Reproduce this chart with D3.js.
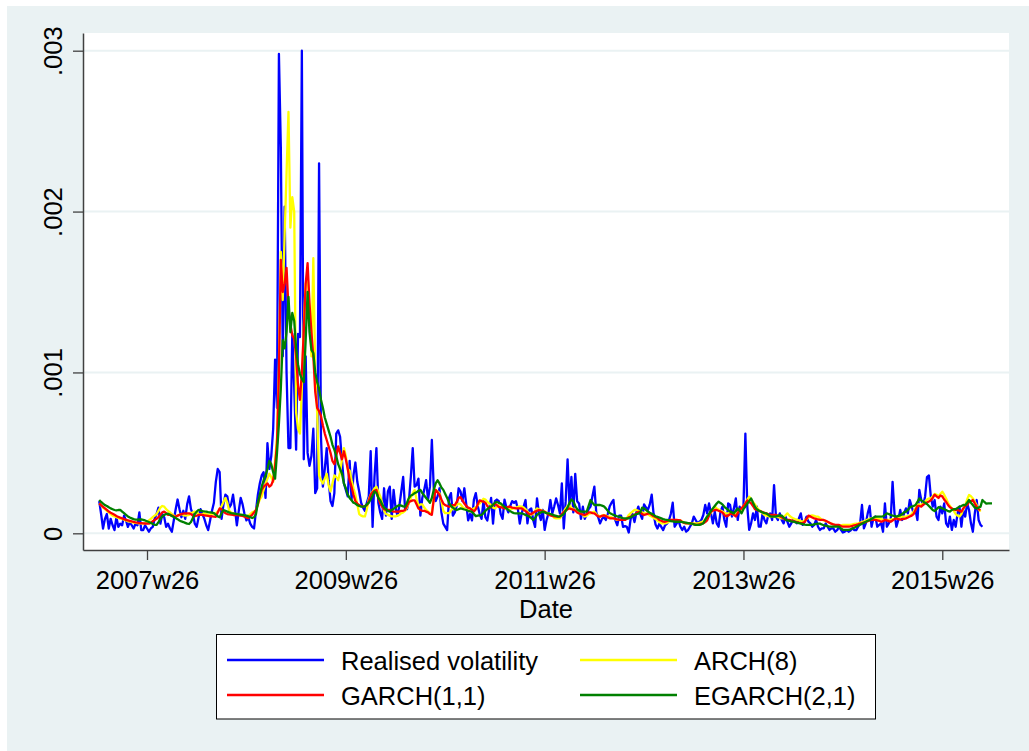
<!DOCTYPE html>
<html><head><meta charset="utf-8">
<script src="https://cdn.jsdelivr.net/npm/d3@7"></script>
<style>
html,body{margin:0;padding:0;background:#ffffff;}
svg{display:block;}
text{font-family:"Liberation Sans", Arial, sans-serif;fill:#000;}
</style></head><body>
<svg id="chart" width="1029" height="751"></svg>
<script>
// ---- DATA (weekly, first observation = 2007w1; values in units of 1e-4) ----
const START_WEEK = 2444;            // Stata %tw value of 2007w1
const VALUE_UNIT = 1e-4;
const xTickWeeks  = [2469, 2573, 2677, 2781, 2885];
const xTickLabels = ["2007w26", "2009w26", "2011w26", "2013w26", "2015w26"];
const yTickValues = [0, 0.001, 0.002, 0.003];
const yTickLabels = ["0", ".001", ".002", ".003"];
const seriesNames = ["Realised volatility", "ARCH(8)", "GARCH(1,1)", "EGARCH(2,1)"];

const realisedVol = [
2.0,1.2,0.3,0.9,1.2,0.3,0.9,0.5,0.2,1.0, 0.4,0.6,0.5,1.1,0.8,0.4,0.7,0.5,0.3,0.6,
0.5,1.3,0.2,0.2,0.5,0.3,0.1,0.3,0.4,0.9, 1.2,1.6,0.6,1.2,1.0,0.4,0.6,0.3,0.1,0.8,
1.5,2.1,1.5,1.0,1.4,0.9,1.8,2.3,1.5,1.2, 0.6,0.4,1.0,1.5,1.2,0.9,0.5,0.2,0.8,1.4,
1.9,3.2,4.0,3.8,0.9,1.8,2.4,2.3,1.6,1.8, 2.4,1.5,0.5,1.4,2.2,1.8,1.2,0.8,1.0,0.6,
0.4,0.3,1.4,2.4,3.1,3.6,3.8,2.2,5.6,4.0, 4.8,6.5,10.8,7.8,29.8,24,11,20.3,10,5.3,
5.3,12.4,9.1,5.2,12.4,12.2,30.0,4.6,11.0,5.0, 4.2,4.8,6.5,2.5,2.8,23.0,6.0,2.9,4.0,5.3,
3.3,2.0,1.7,2.5,6.2,6.4,6.0,4.5,3.1,2.7, 2.3,4.5,2.1,3.6,4.4,3.2,2.6,1.9,1.6,1.4,
1.9,2.3,5.1,0.4,3.5,5.3,1.9,1.3,0.9,2.8, 1.1,2.6,2.9,0.9,2.7,1.6,1.1,1.7,2.6,3.5,
1.5,1.5,2.0,3.5,5.3,2.9,3.0,3.4,1.1,2.2, 2.7,3.3,2.1,2.9,5.8,2.8,2.0,2.3,2.8,1.3,
0.6,0.4,0.2,2.2,2.5,1.1,1.3,1.7,2.8,2.6, 2.0,2.8,1.8,0.8,1.2,0.8,2.1,2.5,1.7,1.2,
0.9,2.0,1.0,0.8,1.5,2.2,0.6,2.0,2.1,2.0, 1.2,0.9,2.1,1.6,1.3,1.7,2.0,1.9,2.0,1.5,
0.6,1.24,1.66,2.07,0.62,1.45,1.55,0.83,0.4,2.17, 1.24,0.83,1.45,0.21,0.83,1.24,2.07,1.24,1.66,2.17,
1.76,1.24,3.1,0.3,2.0,4.6,1.7,3.5,1.3,3.7, 2.0,1.86,0.9,1.66,0.9,1.2,1.5,1.66,2.3,2.9,
1.3,1.0,0.62,0.9,1.0,0.83,1.2,1.66,1.9,2.07, 0.8,0.5,1.1,1.1,0.4,0.45,0.4,0.05,0.9,1.2,
0.7,1.3,1.66,1.2,0.9,1.8,1.6,1.45,1.8,2.4, 1.2,0.55,0.3,0.6,0.4,0.2,0.5,0.6,0.8,1.2,
1.9,0.41,0.6,0.8,0.41,0.21,0.41,0.1,0.2,0.41, 0.62,1.04,0.83,0.62,0.72,0.83,1.14,1.76,1.24,1.86,
1.24,0.62,1.35,0.62,0.41,1.35,1.66,0.83,0.41,1.86, 1.76,1.04,1.55,2.17,0.83,1.66,1.35,1.66,6.2,1.66,
0.21,0.62,1.24,0.83,1.66,0.41,0.41,1.24,0.83,0.62, 1.14,1.24,0.83,3.0,1.04,0.83,1.24,0.83,0.62,1.04,
0.72,0.41,0.62,0.83,0.72,0.62,0.93,1.24,0.52,0.72, 1.04,0.72,0.62,0.41,0.52,0.83,0.41,0.21,0.31,0.31,
0.62,0.41,0.21,0.31,0.31,0.1,0.2,0.41,0.21,0.05, 0.1,0.2,0.1,0.17,0.31,0.2,0.2,0.41,0.6,1.76,
0.31,0.62,1.24,1.7,0.41,0.93,1.04,0.41,0.52,0.62, 0.1,1.86,0.41,0.62,0.83,3.2,1.24,0.41,0.83,1.45,
0.83,1.24,1.55,1.24,2.07,1.66,1.24,1.45,0.83,2.7, 2.07,1.76,2.28,3.5,3.6,2.28,1.66,2.07,1.04,0.83,
1.66,1.24,1.86,0.62,0.41,1.04,0.21,0.83,0.41,1.24, 1.66,0.41,1.45,1.04,1.86,1.45,0.62,0.1,1.24,2.07,
0.83,0.52,0.41
];

const arch8 = [
1.86,1.75,1.6,1.5,1.4,1.3,1.2,1.1,1.05,1.0, 0.95,0.92,0.9,0.85,0.8,0.75,0.72,0.7,0.66,0.65,
0.63,0.62,0.62,0.6,0.62,0.7,0.8,0.9,1.0,1.1, 1.2,1.4,1.6,1.7,1.66,1.5,1.4,1.3,1.2,1.1,
1.05,1.1,1.15,1.2,1.15,1.1,1.12,1.15,1.25,1.3, 1.35,1.3,1.2,1.15,1.2,1.25,1.2,1.15,1.18,1.2,
1.22,1.25,1.35,1.5,1.7,1.95,2.2,1.9,1.4,1.3, 1.24,1.2,1.16,1.14,1.12,1.1,1.08,1.05,1.1,1.2,
1.3,1.35,1.4,1.8,2.1,2.3,2.7,3.1,3.4,3.7, 3.5,3.2,4.5,6.0,10.5,17.5,14.5,18.6,22.4,26.2,
19.0,20.9,20.0,7.5,6.5,6.2,9.0,13.0,15.5,16.0, 14.0,11.0,17.1,10.0,7.5,3.6,3.3,3.1,3.4,3.7,
3.0,2.6,3.1,3.6,3.5,3.3,3.8,4.6,5.3,4.8, 4.0,3.9,3.3,2.8,2.4,1.8,1.2,1.1,1.05,1.05,
1.5,2.1,2.4,2.6,2.8,2.9,2.6,2.3,1.9,1.4, 1.2,1.15,1.1,1.05,1.05,1.05,1.1,1.15,1.25,1.3,
1.4,1.6,1.9,2.2,2.5,2.7,2.1,1.7,1.8,1.8, 1.6,1.45,1.35,1.25,1.3,2.2,2.7,2.6,2.5,2.0,
1.4,1.25,1.25,1.25,1.4,1.6,1.66,1.75,1.85,1.8, 1.65,1.55,1.5,1.45,1.45,1.5,1.55,1.6,1.75,1.86,
2.0,2.15,2.1,1.95,1.86,1.75,1.6,1.55,1.65,1.75, 1.7,1.65,1.6,1.55,1.5,1.5,1.52,1.55,1.6,1.65,
1.68,1.66,1.6,1.5,1.35,1.24,1.16,1.22,1.4,1.55, 1.5,1.45,1.4,1.34,1.28,1.24,1.18,1.1,0.96,0.93,
0.93,0.93,1.1,1.35,1.55,1.7,1.76,1.6,1.5,1.45, 1.35,1.26,1.24,1.14,1.04,1.1,1.2,1.24,1.3,1.35,
1.2,1.1,1.04,1.1,1.14,1.1,1.04,1.04,1.0,0.93, 0.88,0.83,0.83,0.83,0.83,0.83,0.95,1.14,1.25,1.35,
1.45,1.45,1.4,1.35,1.3,1.26,1.24,1.18,1.1,1.04, 0.96,0.88,0.8,0.7,0.62,0.62,0.62,0.65,0.72,0.8,
0.83,0.82,0.78,0.8,0.8,0.74,0.65,0.62,0.62,0.62, 0.62,0.62,0.62,0.62,0.65,0.7,0.74,0.85,0.98,1.1,
1.3,1.5,1.66,1.55,1.47,1.42,1.35,1.28,1.24,1.24, 1.24,1.2,1.16,1.2,1.3,1.35,1.5,1.7,1.85,2.1,
2.28,2.1,1.95,1.8,1.6,1.48,1.38,1.25,1.14,1.1, 1.06,1.04,1.04,1.04,1.04,1.0,0.97,0.93,1.0,1.12,
1.24,1.1,1.0,0.93,0.88,0.85,0.8,0.76,0.72,0.8, 0.88,0.98,1.08,1.12,1.08,1.04,1.04,0.95,0.85,0.8,
0.76,0.72,0.66,0.6,0.55,0.5,0.45,0.45,0.5,0.52, 0.52,0.52,0.52,0.53,0.55,0.58,0.6,0.62,0.66,0.7,
0.75,0.8,0.85,0.9,0.93,0.93,0.93,0.92,0.9,0.88, 0.85,0.84,0.83,0.83,0.85,0.88,0.9,0.93,0.97,1.0,
1.04,1.04,1.04,1.07,1.1,1.2,1.35,1.55,1.8,1.8, 1.76,1.88,1.97,2.1,2.17,2.17,2.3,2.45,2.4,2.3,
2.45,2.59,2.4,2.17,1.9,1.7,1.55,1.4,1.2,1.1, 1.04,1.2,1.5,1.75,2.1,2.38,2.3,2.17,1.95,1.75,
1.5,1.35
];

const garch11 = [
1.86,1.75,1.65,1.55,1.45,1.35,1.28,1.22,1.15,1.08, 1.02,0.97,0.93,0.88,0.83,0.8,0.77,0.74,0.71,0.68,
0.66,0.64,0.63,0.62,0.61,0.6,0.6,0.65,0.75,0.83, 0.9,1.0,1.15,1.3,1.35,1.25,1.15,1.15,1.1,1.05,
1.04,1.1,1.15,1.2,1.22,1.24,1.24,1.24,1.2,1.1, 1.07,1.1,1.14,1.16,1.14,1.12,1.1,1.08,1.06,1.05,
1.04,1.03,1.3,1.55,1.5,1.35,1.25,1.2,1.18,1.16, 1.14,1.14,1.14,1.12,1.1,1.08,1.04,0.98,0.95,1.05,
1.15,1.3,1.45,1.8,2.3,2.7,2.9,3.0,3.1,2.9, 3.0,3.3,4.2,5.6,9.9,17.0,15.0,15.5,16.5,14.0,
13.0,12.3,12.1,11.0,9.2,8.3,10.0,12.5,15.5,16.8, 14.3,12.5,11.0,8.8,7.8,7.6,7.3,6.7,6.2,5.8,
5.4,5.0,4.5,4.3,4.8,5.4,5.0,4.6,5.1,4.6, 4.0,3.3,2.9,2.4,2.0,1.85,1.75,1.7,1.65,1.7,
1.75,2.0,2.4,2.55,2.65,2.7,2.2,1.85,1.65,1.5, 1.45,1.45,1.45,1.4,1.35,1.35,1.35,1.35,1.4,1.4,
1.45,1.7,1.95,2.0,2.05,2.05,1.8,1.55,1.45,1.4, 1.4,1.35,1.3,1.2,1.15,2.1,2.7,2.55,2.4,2.1,
1.85,1.75,1.7,1.65,1.7,1.75,1.75,1.95,2.2,2.25, 2.05,1.85,1.7,1.6,1.55,1.45,1.35,1.5,1.8,2.05,
2.0,1.97,1.9,1.7,1.55,1.65,1.75,1.85,1.75,1.65, 1.62,1.6,1.55,1.6,1.65,1.65,1.6,1.58,1.55,1.55,
1.55,1.55,1.45,1.38,1.3,1.16,1.2,1.28,1.35,1.4, 1.45,1.42,1.38,1.35,1.25,1.16,1.12,1.08,1.05,1.04,
1.04,1.04,1.2,1.32,1.42,1.5,1.55,1.5,1.47,1.42, 1.3,1.24,1.2,1.16,1.14,1.2,1.3,1.3,1.26,1.24,
1.14,1.06,1.04,1.08,1.12,1.07,1.0,0.93,0.93,0.93, 0.9,0.86,0.83,0.83,0.83,0.83,0.9,1.0,1.04,1.1,
1.14,1.25,1.33,1.33,1.2,1.14,1.18,1.22,1.24,1.15, 1.06,1.02,0.96,0.83,0.78,0.73,0.72,0.76,0.8,0.83,
0.83,0.83,0.83,0.82,0.8,0.7,0.65,0.62,0.62,0.62, 0.6,0.57,0.53,0.52,0.55,0.6,0.62,0.7,0.8,1.1,
1.35,1.4,1.45,1.45,1.4,1.36,1.3,1.15,1.05,1.1, 1.2,1.22,1.15,1.05,1.25,1.45,1.55,1.7,1.85,2.05,
1.95,1.87,1.7,1.5,1.45,1.4,1.37,1.32,1.28,1.24, 1.18,1.15,1.14,1.14,1.14,1.1,1.06,1.0,0.92,0.85,
0.83,0.83,0.8,0.76,0.73,0.7,0.66,0.63,0.65,0.7, 0.9,1.1,1.05,0.98,0.93,0.9,0.86,0.83,0.83,0.83,
0.78,0.72,0.66,0.6,0.55,0.52,0.52,0.52,0.45,0.41, 0.41,0.41,0.41,0.43,0.46,0.5,0.52,0.56,0.6,0.63,
0.67,0.7,0.75,0.8,0.83,0.83,0.83,0.8,0.77,0.72, 0.76,0.83,0.8,0.76,0.72,0.8,0.88,0.93,0.88,0.85,
0.88,0.9,0.93,0.98,1.04,1.1,1.2,1.45,1.7,1.7, 1.66,1.78,1.86,1.92,1.98,2.05,2.2,2.4,2.3,2.2,
2.35,2.3,2.1,1.95,1.76,1.62,1.55,1.48,1.45,1.45, 1.4,1.35,1.55,1.7,1.76,1.95,2.0,2.07,1.85,1.66,
1.5,1.45
];

const egarch21 = [
2.07,1.95,1.85,1.75,1.7,1.62,1.55,1.5,1.45,1.42, 1.45,1.45,1.35,1.25,1.15,1.05,0.98,0.93,0.88,0.85,
0.85,0.86,0.86,0.84,0.8,0.75,0.7,0.65,0.58,0.53, 0.52,0.7,0.9,1.05,1.14,1.2,1.22,1.15,1.08,1.02,
0.95,0.88,0.8,0.74,0.7,0.65,0.6,0.58,0.7,0.95, 1.2,1.35,1.45,1.42,1.38,1.36,1.35,1.32,1.3,1.28,
1.25,1.15,1.05,1.0,1.25,1.45,1.4,1.35,1.3,1.26, 1.24,1.22,1.2,1.18,1.16,1.14,1.12,1.1,1.05,1.0,
0.95,1.0,1.2,1.9,2.4,2.9,3.3,3.6,4.0,4.5, 4.3,3.8,3.4,5.0,6.8,9.0,12.0,11.5,12.5,14.7,
12.5,13.7,13.2,11.5,10.5,9.9,9.6,9.4,12.0,15.0, 12.5,11.4,11.2,10.0,9.4,9.0,8.3,7.8,7.2,6.8,
6.4,6.0,5.5,5.2,4.8,4.3,4.0,3.7,3.1,2.8, 2.4,2.2,2.05,1.9,1.85,1.75,1.7,1.66,1.66,1.66,
1.8,1.9,2.1,2.35,2.6,2.5,2.2,2.05,1.8,1.6, 1.5,1.4,1.35,1.45,1.52,1.6,1.7,1.75,1.72,1.68,
1.66,1.9,2.2,2.35,2.4,2.5,2.55,2.65,2.7,2.5, 2.35,2.2,2.05,1.9,2.2,2.7,3.1,3.3,3.1,2.85,
2.7,2.45,2.2,1.9,1.7,1.6,1.5,1.45,1.5,1.55, 1.52,1.48,1.45,1.4,1.37,1.33,1.2,1.07,1.1,1.12,
1.14,1.25,1.4,1.5,1.6,1.66,1.78,1.9,1.95,1.9, 1.86,1.75,1.65,1.55,1.45,1.38,1.3,1.26,1.24,1.24,
1.24,1.24,1.2,1.14,1.1,1.04,0.95,0.83,0.95,1.15, 1.24,1.3,1.35,1.3,1.26,1.24,1.2,1.16,1.12,1.08,
1.04,1.06,1.12,1.2,1.4,1.6,1.9,2.1,2.0,1.7, 1.5,1.4,1.35,1.35,1.35,1.35,1.7,2.07,1.9,1.76,
1.76,1.76,1.76,1.72,1.68,1.55,1.4,1.26,1.2,1.15, 1.1,1.06,1.04,0.98,0.95,0.93,0.93,0.93,1.0,1.08,
1.14,1.2,1.22,1.3,1.6,1.55,1.45,1.35,1.28,1.22, 1.15,1.06,1.02,0.98,0.93,0.88,0.85,0.83,0.8,0.76,
0.74,0.72,0.72,0.72,0.72,0.7,0.68,0.66,0.64,0.62, 0.6,0.56,0.52,0.52,0.53,0.56,0.62,0.85,1.05,1.2,
1.4,1.55,1.7,1.85,1.97,1.88,1.8,1.65,1.55,1.45, 1.35,1.3,1.24,1.4,1.55,1.4,1.24,1.5,1.66,1.85,
2.0,2.17,1.9,1.65,1.5,1.42,1.36,1.3,1.26,1.24, 1.15,1.06,1.04,1.04,1.04,1.08,1.12,1.1,0.98,0.86,
0.8,0.77,0.74,0.72,0.7,0.66,0.63,0.6,0.57,0.54, 0.52,0.52,0.52,0.52,0.55,0.58,0.6,0.6,0.55,0.5,
0.48,0.44,0.42,0.41,0.41,0.41,0.41,0.41,0.3,0.22, 0.21,0.21,0.21,0.25,0.3,0.35,0.41,0.47,0.53,0.6,
0.66,0.72,0.78,0.83,0.9,0.97,1.04,1.04,1.04,1.04, 1.05,1.15,1.24,1.2,1.14,1.1,1.08,1.04,1.08,1.12,
1.2,1.3,1.35,1.45,1.6,1.66,1.7,1.76,1.95,2.17, 2.05,1.97,1.9,1.82,1.7,1.58,1.45,1.38,1.5,1.62,
1.6,1.55,1.5,1.45,1.38,1.35,1.45,1.5,1.5,1.58, 1.66,1.7,1.76,1.75,1.9,2.07,1.9,1.76,1.6,1.55,
1.6,1.66,2.07,1.95,1.85,1.86,1.86,1.86
];

const seriesColors = ["#0000FF", "#FFFF00", "#FF0000", "#008000"];

// ---- CHART ----
const W = 1029, H = 751;
const bg = "#EAF2F3";
const plot = {left: 83, right: 1009, top: 33, bottom: 550};
const svg = d3.select("#chart");

svg.append("rect").attr("x", 7).attr("y", 6).attr("width", W - 7).attr("height", H - 6).attr("fill", bg);
svg.append("rect").attr("x", plot.left).attr("y", plot.top)
   .attr("width", plot.right - plot.left).attr("height", plot.bottom - plot.top).attr("fill", "#ffffff");

const x = d3.scaleLinear().domain([START_WEEK - 8.48, START_WEEK + 475.9]).range([plot.left, plot.right]);
const y = d3.scaleLinear().domain([-0.0001037, 0.00311]).range([plot.bottom, plot.top]);

// gridlines
svg.append("g").selectAll("line").data(yTickValues).join("line")
  .attr("x1", plot.left).attr("x2", plot.right)
  .attr("y1", d => y(d)).attr("y2", d => y(d))
  .attr("stroke", bg).attr("stroke-width", 2);

// series
const series = [realisedVol, arch8, garch11, egarch21];
const line = d3.line().x((d, i) => x(START_WEEK + i)).y(d => y(d * VALUE_UNIT));
const gLines = svg.append("g");
series.forEach((s, k) => {
  gLines.append("path").datum(s).attr("d", line)
    .attr("fill", "none").attr("stroke", seriesColors[k])
    .attr("stroke-width", 2.3).attr("stroke-linejoin", "round");
});

// axes
const axisColor = "#404040";
const xAxis = d3.axisBottom(x).tickValues(xTickWeeks)
  .tickFormat((d, i) => xTickLabels[i]).tickSize(10).tickSizeOuter(0).tickPadding(5);
const gx = svg.append("g").attr("transform", `translate(0,${plot.bottom})`).call(xAxis);
gx.select(".domain").attr("stroke", axisColor).attr("stroke-width", 1.5);
gx.selectAll(".tick line").attr("stroke", axisColor).attr("stroke-width", 1.3);
gx.selectAll(".tick text").attr("font-size", 25.5).attr("font-family", "Liberation Sans, Arial, sans-serif")
  .attr("fill", "#000").attr("dy", null).attr("y", 39);

const yAxis = d3.axisLeft(y).tickValues(yTickValues)
  .tickFormat((d, i) => yTickLabels[i]).tickSize(10).tickSizeOuter(0);
const gy = svg.append("g").attr("transform", `translate(${plot.left},0)`).call(yAxis);
gy.select(".domain").attr("stroke", axisColor).attr("stroke-width", 1.5);
gy.selectAll(".tick line").attr("stroke", axisColor).attr("stroke-width", 1.3);
gy.selectAll(".tick text").attr("font-size", 25.5).attr("font-family", "Liberation Sans, Arial, sans-serif")
  .attr("fill", "#000").attr("x", null).attr("dy", null)
  .attr("text-anchor", "middle")
  .attr("transform", "translate(-21,0) rotate(-90)");

// axis title
svg.append("text").attr("x", (plot.left + plot.right) / 2).attr("y", 618)
  .attr("text-anchor", "middle").attr("font-size", 25.5).text("Date");

// legend
const legend = svg.append("g");
legend.append("rect").attr("x", 216.5).attr("y", 634.5).attr("width", 659).attr("height", 84.5)
  .attr("fill", "#fff").attr("stroke", "#000").attr("stroke-width", 1);
const legPos = [
  {lx: 227, tx: 341, y: 660},
  {lx: 580, tx: 694, y: 660},
  {lx: 227, tx: 341, y: 695},
  {lx: 580, tx: 694, y: 695}
];
seriesNames.forEach((name, k) => {
  const p = legPos[k];
  legend.append("line").attr("x1", p.lx).attr("x2", p.lx + 97).attr("y1", p.y).attr("y2", p.y)
    .attr("stroke", seriesColors[k]).attr("stroke-width", 2.5);
  legend.append("text").attr("x", p.tx).attr("y", p.y + 9.5).attr("font-size", 25.5).text(name);
});
</script>
</body></html>
